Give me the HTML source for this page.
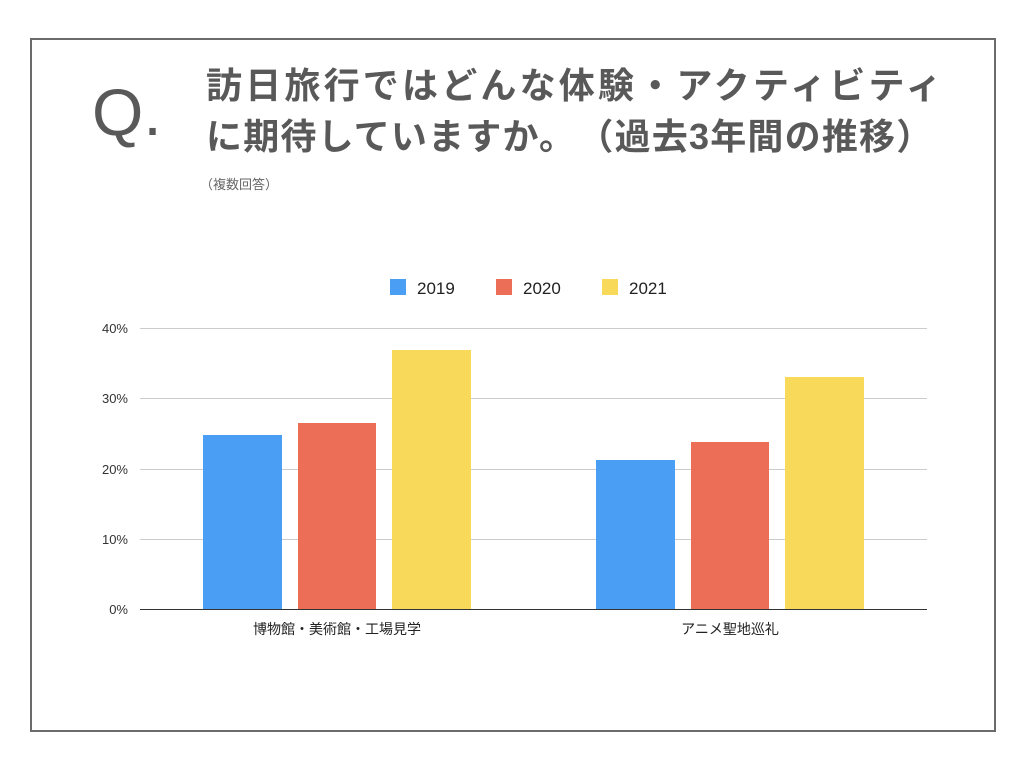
<!DOCTYPE html>
<html><head><meta charset="utf-8"><style>
body{margin:0;width:1024px;height:768px;background:#fff;position:relative;overflow:hidden;font-family:"Liberation Sans","Noto Sans CJK JP",sans-serif}
.box{position:absolute;left:30px;top:38px;width:962px;height:690px;border:2px solid #6b6b6b}
.t{position:absolute;color:#595959;white-space:nowrap}
</style></head><body>
<div class="box"></div>
<div class="t" style="left:92px;top:72px;font-size:66px;line-height:80px">Q<span style="font-size:66px">.</span></div>
<div class="t" style="left:206px;top:64px;font-size:36px;font-weight:bold;line-height:44px;letter-spacing:3.2px">訪日旅行ではどんな体験・アクティビティ</div>
<div class="t" style="left:206px;top:115px;font-size:36px;font-weight:bold;line-height:44px;letter-spacing:1.2px">に期待していますか。　（過去3年間の推移）</div>
<div class="t" style="left:200px;top:174px;font-size:13px;color:#666">（複数回答）</div>
<svg width="1024" height="768" style="position:absolute;left:0;top:0" font-family="Liberation Sans, Noto Sans CJK JP, sans-serif">
<g stroke="#ccc" stroke-width="1">
<line x1="140" x2="927" y1="328.5" y2="328.5"/><line x1="140" x2="927" y1="398.5" y2="398.5"/>
<line x1="140" x2="927" y1="469.5" y2="469.5"/><line x1="140" x2="927" y1="539.5" y2="539.5"/>
</g>
<line x1="140" x2="927" y1="609.5" y2="609.5" stroke="#333"/>
<g font-size="13" fill="#333" text-anchor="end">
<text x="128" y="333">40%</text><text x="128" y="403">30%</text><text x="128" y="474">20%</text><text x="128" y="544">10%</text><text x="128" y="614">0%</text>
</g>
<rect x="203" y="435" width="79" height="174" fill="#4a9ff5"/>
<rect x="298" y="423" width="78" height="186" fill="#ec6e56"/>
<rect x="392" y="350" width="79" height="259" fill="#f9d95a"/>
<rect x="596" y="460" width="79" height="149" fill="#4a9ff5"/>
<rect x="691" y="442" width="78" height="167" fill="#ec6e56"/>
<rect x="785" y="377" width="79" height="232" fill="#f9d95a"/>
<g font-size="14" fill="#222" text-anchor="middle">
<text x="337" y="634">博物館・美術館・工場見学</text>
<text x="730" y="634">アニメ聖地巡礼</text>
</g>
<rect x="390" y="279" width="16" height="16" fill="#4a9ff5"/>
<rect x="496" y="279" width="16" height="16" fill="#ec6e56"/>
<rect x="602" y="279" width="16" height="16" fill="#f9d95a"/>
<g font-size="17" fill="#222">
<text x="417" y="294">2019</text><text x="523" y="294">2020</text><text x="629" y="294">2021</text>
</g>
</svg>
</body></html>
